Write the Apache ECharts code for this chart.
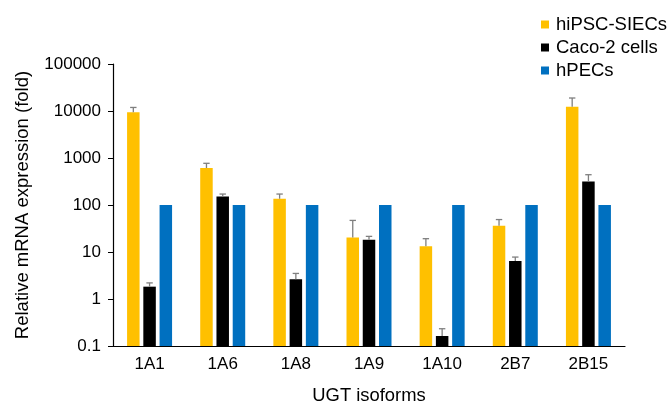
<!DOCTYPE html>
<html>
<head>
<meta charset="utf-8">
<script src="https://cdn.jsdelivr.net/npm/echarts@6/dist/echarts.min.js"></script>
<style>
html,body{margin:0;padding:0;background:#fff;}
#chart{width:667px;height:403px;}
</style>
</head>
<body>
<div id="chart"></div>
<script>
var categories = ['1A1', '1A6', '1A8', '1A9', '1A10', '2B7', '2B15'];
var siecValues = [9400, 612, 136, 20.4, 13.2, 36, 12300];
var siecErrTop = [11900, 771, 171, 47, 19.2, 49, 18900];
var cacoValues = [1.83, 152, 2.63, 18.3, 0.163, 6.4, 318];
var cacoErrTop = [2.2, 171, 3.5, 21.5, 0.233, 7.8, 441];
var hpecValues = [100, 100, 100, 100, 100, 100, 100];
var seriesNames = ['hiPSC-SIECs', 'Caco-2 cells', 'hPECs'];
var yTicks = [0.1, 1, 10, 100, 1000, 10000, 100000];

var FONT = 'Liberation Sans, Arial, sans-serif';
var BAR_W = 12.5;
var STEP = 16.25;

function errData(vals, tops) {
  return vals.map(function (v, i) { return [i, v, tops[i]]; });
}
function errSeries(vals, tops, offset) {
  return {
    type: 'custom',
    data: errData(vals, tops),
    z: 5,
    silent: true,
    renderItem: function (params, api) {
      var idx = api.value(0);
      var base = api.coord([idx, api.value(1)]);
      var top = api.coord([idx, api.value(2)]);
      var x = base[0] + offset;
      var style = { stroke: '#7f7f7f', lineWidth: 1.3 };
      return {
        type: 'group',
        children: [
          { type: 'line', shape: { x1: x, y1: base[1], x2: x, y2: top[1] }, style: style },
          { type: 'line', shape: { x1: x - 3.2, y1: top[1], x2: x + 3.2, y2: top[1] }, style: style }
        ]
      };
    }
  };
}

var chart = echarts.init(document.getElementById('chart'));
chart.setOption({
  animation: false,
  textStyle: { fontFamily: FONT },
  grid: { left: 113, right: 42, top: 64, bottom: 57, outerBoundsMode: 'none', containLabel: false },
  legend: {
    data: seriesNames,
    orient: 'vertical',
    left: 536,
    top: 10,
    icon: 'rect',
    itemWidth: 8,
    itemHeight: 8,
    itemGap: 4,
    textStyle: { fontSize: 18.5, color: '#000', fontFamily: FONT, padding: [0, 0, 0, 2] }
  },
  xAxis: {
    type: 'category',
    data: categories,
    axisLine: { lineStyle: { color: '#000', width: 1.2 } },
    axisTick: { show: false },
    axisLabel: { color: '#000', fontSize: 17, margin: 10, fontFamily: FONT },
    name: 'UGT isoforms',
    nameLocation: 'middle',
    nameGap: 41,
    nameTextStyle: { color: '#000', fontSize: 18.4, fontFamily: FONT, verticalAlign: 'top' }
  },
  yAxis: {
    type: 'log',
    logBase: 10,
    min: yTicks[0],
    max: yTicks[yTicks.length - 1],
    startValue: yTicks[0],
    axisLine: { show: true, lineStyle: { color: '#000', width: 1.2 } },
    axisTick: { show: true, length: 5, lineStyle: { color: '#000' } },
    splitLine: { show: false },
    axisLabel: {
      color: '#000', fontSize: 17, margin: 12, fontFamily: FONT,
      formatter: function (v) { return v < 1 ? v.toFixed(1) : String(Math.round(v)); }
    },
    name: 'Relative mRNA expression (fold)',
    nameLocation: 'middle',
    nameGap: 81,
    nameTextStyle: { color: '#000', fontSize: 18.5, fontFamily: FONT }
  },
  series: [
    { name: seriesNames[0], type: 'bar', data: siecValues, barWidth: BAR_W, barGap: '30%', itemStyle: { color: '#FFC000' } },
    { name: seriesNames[1], type: 'bar', data: cacoValues, barWidth: BAR_W, barGap: '30%', itemStyle: { color: '#000000' } },
    { name: seriesNames[2], type: 'bar', data: hpecValues, barWidth: BAR_W, barGap: '30%', itemStyle: { color: '#0070C0' } },
    errSeries(siecValues, siecErrTop, -STEP),
    errSeries(cacoValues, cacoErrTop, 0)
  ]
});
</script>
</body>
</html>
